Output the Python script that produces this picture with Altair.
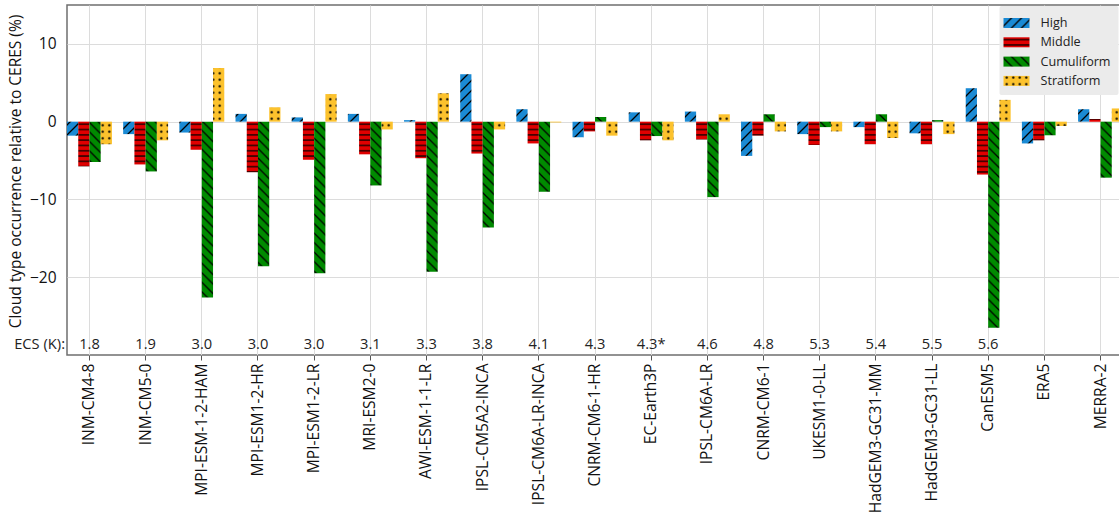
import altair as alt
import pandas as pd
import jinja2

models = ["INM-CM4-8", "INM-CM5-0", "MPI-ESM-1-2-HAM", "MPI-ESM1-2-HR", "MPI-ESM1-2-LR",
          "MRI-ESM2-0", "AWI-ESM-1-1-LR", "IPSL-CM5A2-INCA", "IPSL-CM6A-LR-INCA",
          "CNRM-CM6-1-HR", "EC-Earth3P", "IPSL-CM6A-LR", "CNRM-CM6-1", "UKESM1-0-LL",
          "HadGEM3-GC31-MM", "HadGEM3-GC31-LL", "CanESM5", "ERA5", "MERRA-2"]
ecs = ["1.8", "1.9", "3.0", "3.0", "3.0", "3.1", "3.3", "3.8", "4.1", "4.3", "4.3*",
       "4.6", "4.8", "5.3", "5.4", "5.5", "5.6", "", ""]
high = [-1.8, -1.6, -1.4, 1.0, 0.55, 1.0, 0.2, 6.1, 1.6, -2.0, 1.2, 1.3, -4.4, -1.6,
        -0.7, -1.5, 4.3, -2.8, 1.6]
middle = [-5.75, -5.5, -3.6, -6.5, -4.9, -4.2, -4.7, -4.1, -2.8, -1.25, -2.4, -2.3,
          -1.8, -3.0, -2.9, -2.9, -6.8, -2.4, 0.35]
cumuliform = [-5.2, -6.4, -22.6, -18.6, -19.5, -8.2, -19.3, -13.6, -9.0, 0.6, -1.85,
              -9.7, 0.95, -0.7, 0.95, 0.2, -26.5, -1.75, -7.2]
stratiform = [-2.9, -2.4, 6.9, 1.85, 3.55, -1.0, 3.65, -1.0, -0.1, -1.8, -2.4, 0.95,
              -1.25, -1.25, -2.1, -1.6, 2.8, -0.55, 1.7]
types = ["High", "Middle", "Cumuliform", "Stratiform"]
colors = ["#1a8ad4", "#e00000", "#008a00", "#fcc22d"]
pattern_ids = ["hatchHigh", "hatchMiddle", "hatchCumuliform", "hatchStratiform"]

rows = []
for i, m in enumerate(models):
    for t, vals in zip(types, [high, middle, cumuliform, stratiform]):
        rows.append({"model": m, "type": t, "value": vals[i]})
df = pd.DataFrame(rows)
ecs_df = pd.DataFrame({"model": models, "ecs": ecs})

FONT = "Open Sans"


def build(fill_range, pad):
    xenc = alt.X("model:N", sort=models,
                 scale=alt.Scale(paddingInner=0.2, paddingOuter=0),
                 axis=alt.Axis(title=None, labelAngle=-90, labelFontSize=15.6,
                               labelColor="#111", tickSize=5, tickColor="#555", grid=True,
                               gridColor="#dcdcdc", domain=False, labelPadding=3,
                               bandPosition=0.5))
    bars = alt.Chart(df).mark_bar().encode(
        x=xenc,
        xOffset=alt.XOffset("type:N", sort=types),
        y=alt.Y("value:Q",
                scale=alt.Scale(domain=[-30, 15], nice=False, zero=False),
                axis=alt.Axis(title="Cloud type occurrence relative to CERES (%)",
                              values=[-20, -10, 0, 10], grid=True, gridColor="#dcdcdc",
                              ticks=False, domain=False, labelFontSize=15.5,
                              labelColor="#111", labelPadding=11, titleFontSize=15.5,
                              titleFontWeight="normal", titleColor="#111",
                              titlePadding=5.5, titleY=166)),
        color=alt.Color("type:N", sort=types,
                        scale=alt.Scale(domain=types, range=fill_range),
                        legend=alt.Legend(title=None, orient="none", legendX=932.5,
                                          legendY=1, fillColor="#ebebeb", padding=7,
                                          cornerRadius=2,
                                          symbolType="M-1.3,-0.5H1.3V0.5H-1.3Z",
                                          symbolSize=400, symbolStrokeWidth=0,
                                          symbolOpacity=1, labelFontSize=12.6,
                                          labelColor="#222", rowPadding=2.3,
                                          labelOffset=14)),
    )
    ecs_text = alt.Chart(ecs_df).mark_text(fontSize=14.7, font=FONT, color="#222",
                                           baseline="middle").encode(
        x=alt.X("model:N", sort=models),
        y=alt.value(340),
        text="ecs:N",
    )
    ecs_label = alt.Chart(pd.DataFrame({"t": ["ECS (K):"]})).mark_text(
        fontSize=14.7, font=FONT, color="#222", align="right",
        baseline="middle").encode(x=alt.value(-2), y=alt.value(340), text="t:N")
    return alt.layer(bars, ecs_text, ecs_label).properties(
        width=1056, height=350, padding=pad
    ).configure(font=FONT).configure_view(stroke="#6f6f6f", strokeWidth=1.5)


DEFS = """
<svg width="0" height="0" style="position:absolute;left:0;top:0">
 <defs>
  <pattern id="hatchHigh" patternUnits="userSpaceOnUse" width="10" height="10">
   <rect width="10" height="10" fill="#1a8ad4"/>
   <path d="M-2.5,2.5 L2.5,-2.5 M0,10 L10,0 M7.5,12.5 L12.5,7.5" stroke="#000" stroke-width="1.3"/>
  </pattern>
  <pattern id="hatchMiddle" patternUnits="userSpaceOnUse" width="10" height="5.3">
   <rect width="10" height="5.3" fill="#e00000"/>
   <path d="M0,2.65 L10,2.65" stroke="#000" stroke-width="1.2"/>
  </pattern>
  <pattern id="hatchCumuliform" patternUnits="userSpaceOnUse" width="9.5" height="9.5">
   <rect width="9.5" height="9.5" fill="#008a00"/>
   <path d="M-2.4,7.1 L2.4,11.9 M0,0 L9.5,9.5 M7.1,-2.4 L11.9,2.4" stroke="#000" stroke-width="1.3"/>
  </pattern>
  <pattern id="hatchStratiform" patternUnits="userSpaceOnUse" width="6.5" height="6.5">
   <rect width="6.5" height="6.5" fill="#fcc22d"/>
   <circle cx="3.25" cy="3.25" r="1.15" fill="#000"/>
  </pattern>
 </defs>
</svg>
"""

TEMPLATE = jinja2.Template("""<!DOCTYPE html>
<html>
<head>
  <meta charset="utf-8">
  <style>
    html, body { margin: 0; padding: 0; overflow: hidden; width: 1119px; height: 519px; }
    #{{ output_div }} { display: block; width: 1119px; height: 519px; overflow: hidden; }
    #{{ output_div }}.vega-embed { display: block; width: 1119px; height: 519px; overflow: hidden; }
  </style>
  <script type="text/javascript" src="{{ base_url }}/vega@{{ vega_version }}"></script>
  <script type="text/javascript" src="{{ base_url }}/vega-lite@{{ vegalite_version }}"></script>
  <script type="text/javascript" src="{{ base_url }}/vega-embed@{{ vegaembed_version }}"></script>
</head>
<body>
""" + DEFS + """
  <div id="{{ output_div }}"></div>
  <script type="text/javascript">
    var spec = {{ spec }};
    var embedOpt = Object.assign({"mode": "vega-lite"}, {{ embed_options }});
    vegaEmbed("#{{ output_div }}", spec, embedOpt).catch(console.error);
  </script>
</body>
</html>
""")

pattern_range = ["url(#%s) %s" % (p, c) for p, c in zip(pattern_ids, colors)]

try:
    chart = build(pattern_range, {"left": 8, "top": 5, "right": 0, "bottom": 0})
    chart.save("out.html", embed_options={"renderer": "svg", "actions": False},
               template=TEMPLATE)
except Exception:
    chart = build(colors, {"left": 2, "top": 0, "right": 0, "bottom": 0})
    chart.save("out.html", embed_options={"renderer": "svg", "actions": False})
